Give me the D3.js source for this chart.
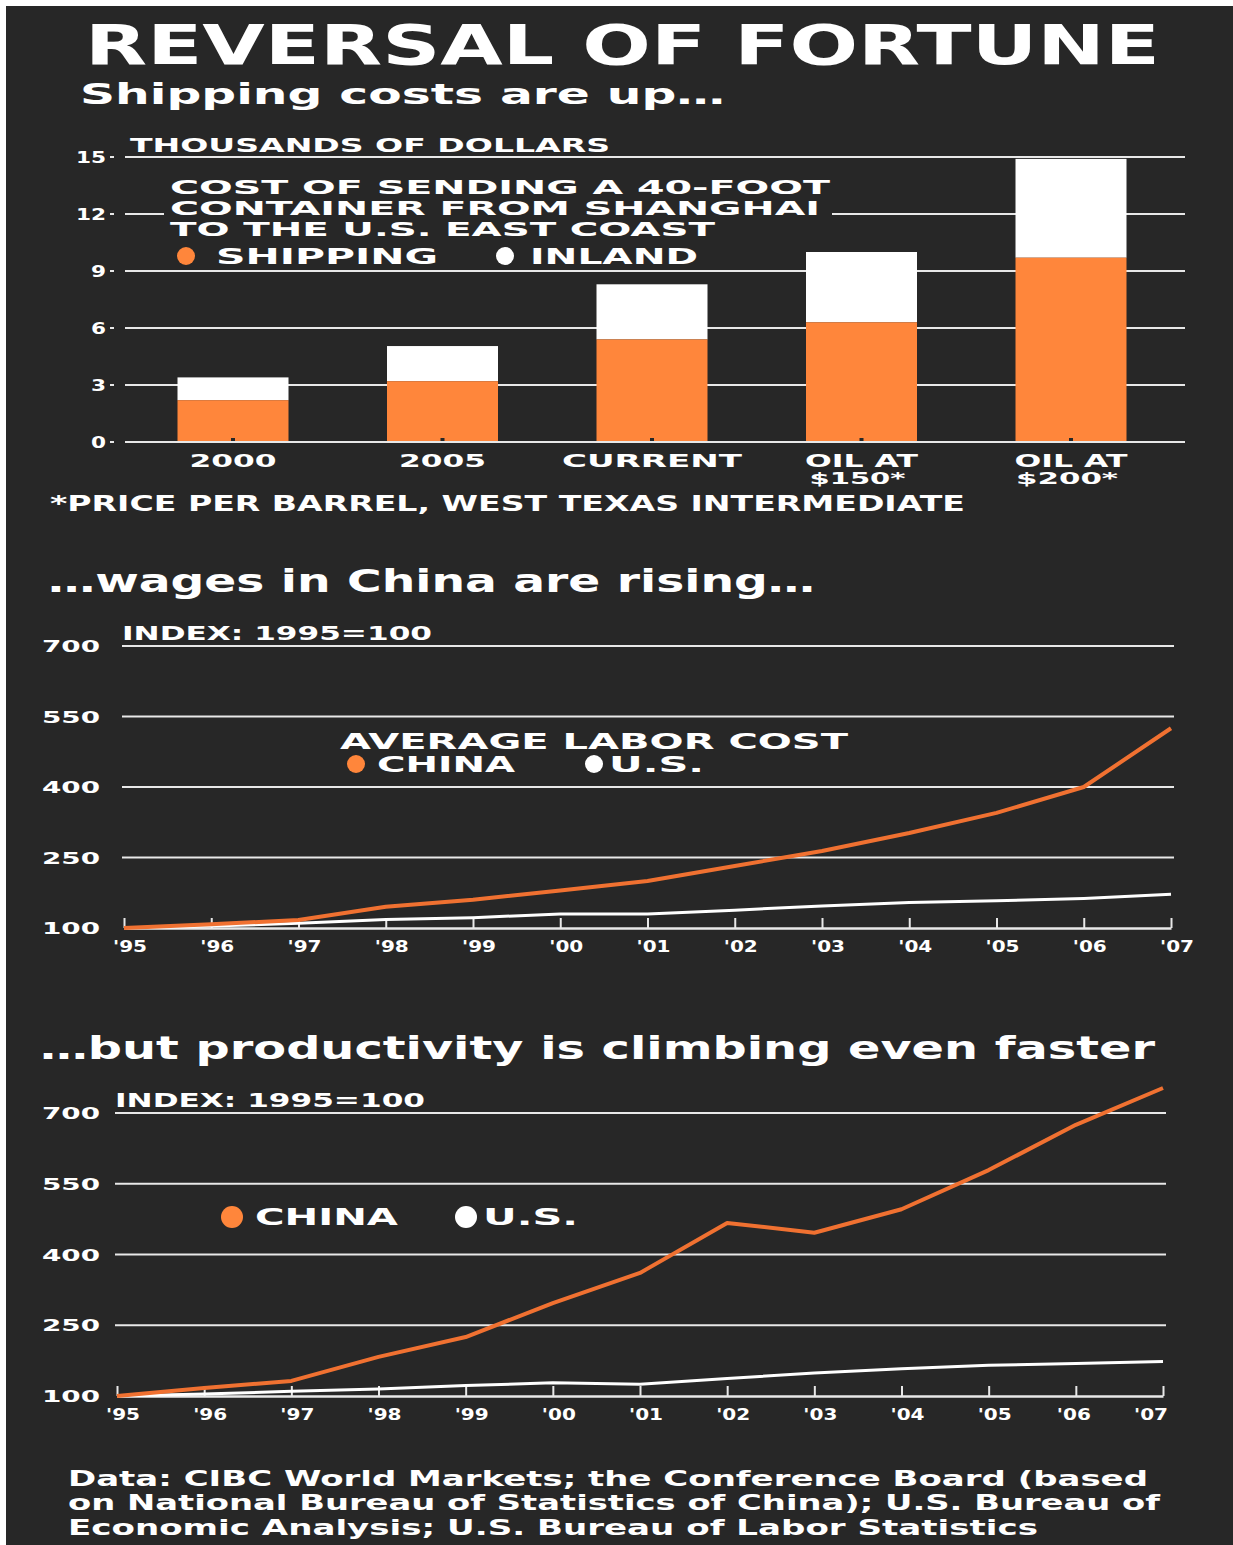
<!DOCTYPE html>
<html>
<head>
<meta charset="utf-8">
<script src="https://cdn.jsdelivr.net/npm/d3@7"></script>
<style>
  html, body { margin: 0; padding: 0; background: #fff; }
  svg text { font-family: 'DejaVu Sans', 'Liberation Sans', sans-serif; font-weight: bold; fill: #fff; }
</style>
</head>
<body>
<svg id="chart" width="1233" height="1545"></svg>
<script>
/*** DATA ***/
var barCategories = ['2000', '2005', 'CURRENT', 'OIL AT|$150*', 'OIL AT|$200*'];
var shippingCost = [2.2, 3.2, 5.4, 6.3, 9.7];
var inlandCost = [1.2, 1.85, 2.9, 3.7, 5.2];
var costTicks = [0, 3, 6, 9, 12, 15];

var years = [1995, 1996, 1997, 1998, 1999, 2000, 2001, 2002, 2003, 2004, 2005, 2006, 2007];
var yearLabels = ["'95", "'96", "'97", "'98", "'99", "'00", "'01", "'02", "'03", "'04", "'05", "'06", "'07"];
var indexTicks = [100, 250, 400, 550, 700];

var wageChina = [100, 108, 117, 145, 160, 180, 200, 232, 264, 302, 345, 400, 525];
var wageUS = [100, 104, 110, 118, 122, 130, 130, 138, 147, 154, 158, 163, 172];
var prodChina = [100, 117, 132, 183, 225, 297, 361, 467, 446, 496, 579, 675, 753];
var prodUS = [100, 104, 110, 115, 122, 128, 125, 137, 149, 158, 165, 169, 173];

var colorBg = '#272727';
var colorOrange = '#FF863B';
var colorLine = '#F07131';
var colorGrid = '#E8E8E8';

var svg = d3.select('#chart');

//dark panel
svg.append('rect')
  .attr('x', 6).attr('y', 6)
  .attr('width', 1227).attr('height', 1539)
  .attr('fill', colorBg);

function addText(x, y, str, size, width, anchor) {
  var t = svg.append('text')
    .attr('x', x).attr('y', y)
    .attr('font-size', size)
    .attr('text-anchor', anchor || 'start')
    .text(str);
  if (width) t.attr('textLength', width).attr('lengthAdjust', 'spacingAndGlyphs');
  return t;
}

/****************************/
/*** HEADER ***/
/****************************/
addText(85, 64, 'REVERSAL OF FORTUNE', 55, 1075).attr('font-weight', 900);
addText(80, 104, 'Shipping costs are up…', 29, 645);


/****************************/
/*** SHIPPING COST BARS ***/
/****************************/
function drawBarChart() {
  var y = d3.scaleLinear().domain([0, 15]).range([442, 157]);
  var x = d3.scalePoint().domain(barCategories).range([233, 1071]);
  var barWidth = 111;
  var labelWidths = { '2000': 87, '2005': 87, 'CURRENT': 180, 'OIL AT': 113, '$150*': 96, '$200*': 102 };

  addText(130, 152, 'THOUSANDS OF DOLLARS', 19, 480);

  //gridlines
  svg.append('g').selectAll('line')
    .data(costTicks)
    .enter().append('line')
    .attr('x1', 125).attr('x2', 1185)
    .attr('y1', d => y(d)).attr('y2', d => y(d))
    .attr('stroke', colorGrid).attr('stroke-width', 2);

  //tick labels
  svg.append('g').selectAll('text')
    .data(costTicks)
    .enter().append('text')
    .attr('x', 106).attr('y', d => y(d) + 6)
    .attr('font-size', 15)
    .attr('text-anchor', 'end')
    .attr('textLength', d => d >= 10 ? 30 : 15)
    .attr('lengthAdjust', 'spacingAndGlyphs')
    .text(d => d);
  svg.append('g').selectAll('line')
    .data(costTicks)
    .enter().append('line')
    .attr('x1', 110).attr('x2', 114)
    .attr('y1', d => y(d)).attr('y2', d => y(d))
    .attr('stroke', colorGrid).attr('stroke-width', 2);

  //legend block (covers gridline)
  svg.append('rect')
    .attr('x', 164).attr('y', 172)
    .attr('width', 668).attr('height', 92)
    .attr('fill', colorBg);
  addText(170, 194, 'COST OF SENDING A 40-FOOT', 19, 660);
  addText(170, 215, 'CONTAINER FROM SHANGHAI', 19, 650);
  addText(170, 236, 'TO THE U.S. EAST COAST', 19, 545);
  svg.append('circle').attr('cx', 186).attr('cy', 256).attr('r', 9).attr('fill', colorOrange);
  addText(216, 264, 'SHIPPING', 21, 222);
  svg.append('circle').attr('cx', 505).attr('cy', 256).attr('r', 9).attr('fill', '#fff');
  addText(530, 264, 'INLAND', 21, 168);

  //stacked bars
  var bars = svg.append('g').selectAll('g')
    .data(barCategories)
    .enter().append('g');

  bars.append('rect')
    .attr('x', d => x(d) - barWidth / 2)
    .attr('width', barWidth)
    .attr('y', (d, i) => y(shippingCost[i] + inlandCost[i]))
    .attr('height', (d, i) => y(shippingCost[i]) - y(shippingCost[i] + inlandCost[i]))
    .attr('fill', '#fff');

  bars.append('rect')
    .attr('x', d => x(d) - barWidth / 2)
    .attr('width', barWidth)
    .attr('y', (d, i) => y(shippingCost[i]))
    .attr('height', (d, i) => y(0) - y(shippingCost[i]) - 1)
    .attr('fill', colorOrange);

  //small dark tick at bar base
  bars.append('rect')
    .attr('x', d => x(d) - 2).attr('y', y(0) - 4)
    .attr('width', 4).attr('height', 3)
    .attr('fill', colorBg);

  //category labels
  bars.each(function(d) {
    var parts = d.split('|');
    var g = d3.select(this);
    parts.forEach(function(p, j) {
      g.append('text')
        .attr('x', x(d) + (j == 1 ? -4 : 0))
        .attr('y', 467 + j * 17)
        .attr('font-size', j == 1 ? 15 : 17)
        .attr('text-anchor', 'middle')
        .attr('textLength', labelWidths[p])
        .attr('lengthAdjust', 'spacingAndGlyphs')
        .text(p);
    });
  });

  addText(50, 511, '*PRICE PER BARREL, WEST TEXAS INTERMEDIATE', 21, 915);
}


/****************************/
/*** INDEX LINE CHARTS ***/
/****************************/
function drawLineChart(opts) {
  var x = d3.scaleLinear().domain([1995, 2007]).range([opts.x0, opts.x1]);
  var y = d3.scaleLinear().domain([100, 700]).range([opts.yBase, opts.yTop]);

  addText(opts.titleX, opts.titleY, opts.title, 32, opts.titleW);
  addText(opts.x0 - 2, opts.yTop - 6, 'INDEX: 1995=100', 19, 310);

  //gridlines
  svg.append('g').selectAll('line')
    .data(indexTicks.slice(1))
    .enter().append('line')
    .attr('x1', opts.x0 - 2).attr('x2', opts.x1 + 3)
    .attr('y1', d => y(d)).attr('y2', d => y(d))
    .attr('stroke', colorGrid).attr('stroke-width', 2);

  //y labels
  svg.append('g').selectAll('text')
    .data(indexTicks)
    .enter().append('text')
    .attr('x', 100).attr('y', d => y(d) + 6)
    .attr('font-size', 15)
    .attr('text-anchor', 'end')
    .attr('textLength', 58)
    .attr('lengthAdjust', 'spacingAndGlyphs')
    .text(d => d);

  //x axis
  var axis = d3.axisTop(x)
    .tickValues(years)
    .tickSize(10)
    .tickSizeOuter(0)
    .tickFormat('');
  var ax = svg.append('g')
    .attr('transform', 'translate(0,' + opts.yBase + ')')
    .call(axis);
  ax.select('.domain').attr('stroke', colorGrid).attr('stroke-width', 2.5);
  ax.selectAll('.tick line').attr('stroke', colorGrid).attr('stroke-width', 2);

  svg.append('g').selectAll('text')
    .data(years)
    .enter().append('text')
    .attr('x', (d, i) => x(d) + 6 + (opts.labelShift[i] || 0))
    .attr('y', opts.yBase + 24)
    .attr('font-size', 15)
    .attr('text-anchor', 'middle')
    .attr('textLength', 34)
    .attr('lengthAdjust', 'spacingAndGlyphs')
    .text((d, i) => yearLabels[i]);

  //series
  var line = d3.line()
    .x((d, i) => x(years[i]))
    .y(d => y(d));

  svg.append('path')
    .datum(opts.us)
    .attr('d', line)
    .attr('fill', 'none')
    .attr('stroke', '#fff')
    .attr('stroke-width', 3)
    .attr('stroke-linejoin', 'round');

  svg.append('path')
    .datum(opts.china)
    .attr('d', line)
    .attr('fill', 'none')
    .attr('stroke', colorLine)
    .attr('stroke-width', 4)
    .attr('stroke-linejoin', 'round');

  //legend
  var lg = opts.legend;
  if (lg.title) addText(lg.titleX, lg.titleY, lg.title, 22, lg.titleW);
  svg.append('circle').attr('cx', lg.chinaX).attr('cy', lg.y - 8).attr('r', lg.r).attr('fill', colorOrange);
  addText(lg.chinaX + lg.r + 12, lg.y, 'CHINA', lg.size, lg.chinaW);
  svg.append('circle').attr('cx', lg.usX).attr('cy', lg.y - 8).attr('r', lg.r).attr('fill', '#fff');
  addText(lg.usX + lg.r + 6, lg.y, 'U.S.', lg.size, lg.usW);
}


drawBarChart();

drawLineChart({
  title: '…wages in China are rising…', titleX: 48, titleY: 592, titleW: 767,
  x0: 124, x1: 1171, yBase: 928, yTop: 646,
  china: wageChina, us: wageUS,
  labelShift: {},
  legend: { title: 'AVERAGE LABOR COST', titleX: 340, titleY: 749, titleW: 508,
    chinaX: 356, usX: 594, y: 772, r: 9, size: 21, chinaW: 138, usW: 95 }
});

drawLineChart({
  title: '…but productivity is climbing even faster', titleX: 40, titleY: 1059, titleW: 1115,
  x0: 117, x1: 1163, yBase: 1396, yTop: 1113,
  china: prodChina, us: prodUS,
  labelShift: { 11: -8, 12: -18 },
  legend: { title: null,
    chinaX: 232, usX: 466, y: 1225, r: 11, size: 23, chinaW: 143, usW: 95 }
});

//source
addText(68, 1486, 'Data: CIBC World Markets; the Conference Board (based', 21, 1080);
addText(68, 1510, 'on National Bureau of Statistics of China); U.S. Bureau of', 21, 1092);
addText(68, 1535, 'Economic Analysis; U.S. Bureau of Labor Statistics', 21, 970);
</script>
</body>
</html>
